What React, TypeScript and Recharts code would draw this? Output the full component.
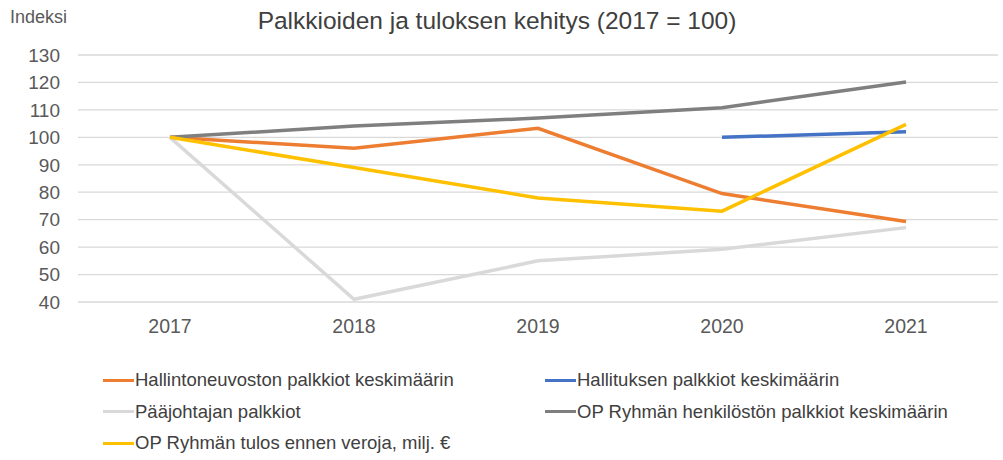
import React from "react";
import { LineChart, Line, XAxis, YAxis, CartesianGrid, Legend } from "recharts";

const years = ["2017", "2018", "2019", "2020", "2021"];
const hallintoneuvosto = [100, 96, 103.3, 79.5, 69.3];
const hallitus = [null, null, null, 100, 102];
const paajohtaja = [100, 41, 55, 59.2, 67.1];
const henkilosto = [100, 104.1, 107, 110.8, 120.2];
const tulos = [100, 89, 77.9, 73.1, 104.7];
const yTicks = [40, 50, 60, 70, 80, 90, 100, 110, 120, 130];

const seriesDefs = [
  { key: "a", name: "Hallintoneuvoston palkkiot keskimäärin", color: "#ED7D31", values: hallintoneuvosto },
  { key: "b", name: "Hallituksen palkkiot keskimäärin", color: "#4472C4", values: hallitus },
  { key: "c", name: "Pääjohtajan palkkiot", color: "#D9D9D9", values: paajohtaja },
  { key: "d", name: "OP Ryhmän henkilöstön palkkiot keskimäärin", color: "#7F7F7F", values: henkilosto },
  { key: "e", name: "OP Ryhmän tulos ennen veroja, milj. €", color: "#FFC000", values: tulos },
];

const data = years.map((y, i) => {
  const row: any = { year: y };
  seriesDefs.forEach((s) => {
    row[s.key] = s.values[i];
  });
  return row;
});

const FONT = "'Liberation Sans', Arial, sans-serif";

const LegendContent = () => (
  <div style={{ position: "relative", width: 900, height: 100, fontFamily: FONT, fontSize: 18.5, color: "#404040" }}>
    {seriesDefs.map((s, i) => {
      const col = i % 2;
      const row = Math.floor(i / 2);
      return (
        <div
          key={s.key}
          style={{
            position: "absolute",
            left: col * 442,
            top: row * 31.5,
            display: "flex",
            alignItems: "center",
            whiteSpace: "nowrap",
            height: 22,
          }}
        >
          <span style={{ display: "inline-block", width: 31, height: 3, background: s.color, marginRight: 1 }} />
          <span>{s.name}</span>
        </div>
      );
    })}
  </div>
);

export default function App() {
  return (
    <div style={{ position: "absolute", left: 0, top: 0, width: 1003, height: 460, background: "#fff" }}>
      <LineChart width={1003} height={460} data={data} margin={{ top: 55, right: 5, left: 8, bottom: 128 }}>
        <text x={497} y={29} textAnchor="middle" fontFamily={FONT} fontSize={24.5} fill="#404040">
          Palkkioiden ja tuloksen kehitys (2017 = 100)
        </text>
        <text x={10} y={23} fontFamily={FONT} fontSize={18} fill="#595959">
          Indeksi
        </text>
        <CartesianGrid vertical={false} stroke="#D9D9D9" strokeWidth={1.3} />
        <XAxis
          dataKey="year"
          axisLine={false}
          tickLine={false}
          tickMargin={11}
          height={30}
          padding={{ left: 92, right: 92 }}
          tick={{ fontFamily: FONT, fontSize: 19.5, fill: "#595959" }}
        />
        <YAxis
          domain={[40, 130]}
          ticks={yTicks}
          interval={0}
          axisLine={false}
          tickLine={false}
          width={70}
          tickMargin={12}
          tick={{ fontFamily: FONT, fontSize: 19, fill: "#595959" }}
        />
        {seriesDefs.map((s) => (
          <Line
            key={s.key}
            type="linear"
            dataKey={s.key}
            name={s.name}
            stroke={s.color}
            strokeWidth={3.5}
            dot={false}
            activeDot={false}
            isAnimationActive={false}
          />
        ))}
        <Legend
          layout="vertical"
          align="center"
          verticalAlign="middle"
          content={<LegendContent />}
          wrapperStyle={{ position: "absolute", left: 103, top: 369, width: 900, height: 100 }}
        />
      </LineChart>
    </div>
  );
}
